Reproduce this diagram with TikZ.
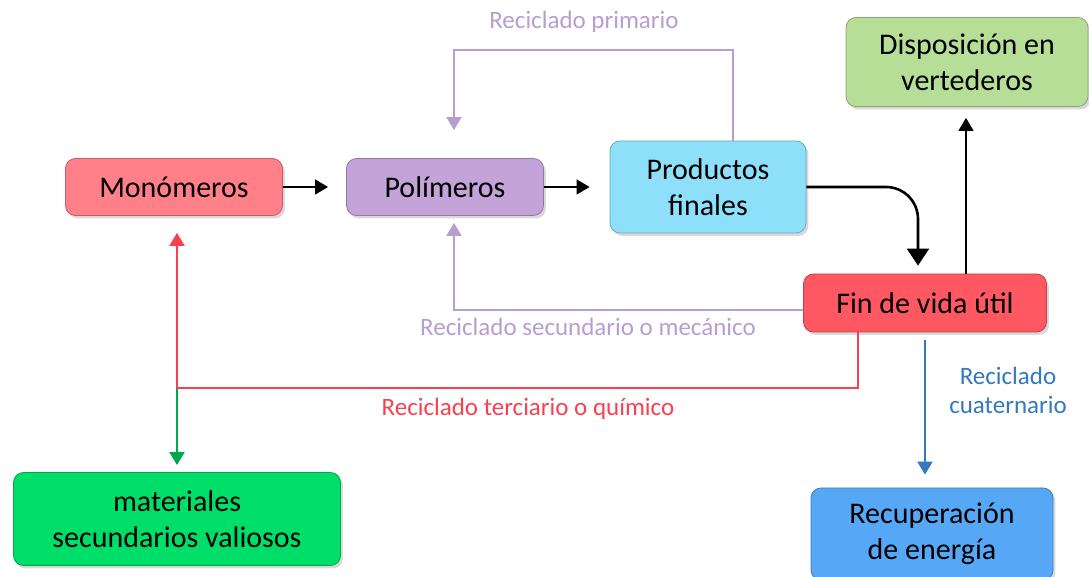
\documentclass[tikz,border=0pt]{standalone}
\usepackage{fontspec}
\setmainfont{Carlito}
\usetikzlibrary{arrows.meta,shadows}
\definecolor{monopink}{RGB}{255,128,136}
\definecolor{polilila}{RGB}{196,163,216}
\definecolor{prodcyan}{RGB}{142,224,250}
\definecolor{dispgreen}{RGB}{182,222,150}
\definecolor{finred}{RGB}{255,88,98}
\definecolor{recupblue}{RGB}{86,168,246}
\definecolor{matgreen}{RGB}{0,222,106}
\definecolor{recpurple}{RGB}{182,158,210}
\definecolor{recred}{RGB}{250,64,80}
\definecolor{recblue}{RGB}{52,120,190}
\definecolor{recgreen}{RGB}{0,168,80}
\begin{document}
\begin{tikzpicture}[x=0.5pt,y=-0.5pt,
  box/.style={rounded corners=5pt, draw=#1!75!black, fill=#1, line width=0.4pt,
    drop shadow={shadow xshift=1.2pt,shadow yshift=-1.5pt,opacity=0.3},
    align=center, font=\fontsize{15}{18}\selectfont, inner sep=2pt},
  flow/.style={-{Triangle[length=6.5pt,width=7.5pt]}, line width=0.7pt},
  rec/.style={draw=#1, line width=1pt, -{Triangle[length=6.5pt,width=7.5pt]}},
  reclabel/.style={text=#1, font=\fontsize{12.5}{14.5}\selectfont, align=center}]
\useasboundingbox (0,0) rectangle (1089,577);
% Main boxes
\node[box=monopink, minimum width=108.5pt, minimum height=28.5pt] (mono) at (174,187) {Monómeros};
\node[box=polilila, minimum width=98.5pt, minimum height=28.5pt] (poli) at (445,187) {Polímeros};
\node[box=prodcyan, minimum width=98pt, minimum height=46pt] (prod) at (708,187) {Productos\\finales};
\node[box=dispgreen, minimum width=121pt, minimum height=44.5pt] (disp) at (967,62) {Disposición en\\vertederos};
\node[box=finred, minimum width=121.5pt, minimum height=29pt] (fin) at (925,303) {Fin de vida útil};
\node[box=recupblue, minimum width=121pt, minimum height=46pt] (recup) at (932,534) {Recuperación\\de energía};
\node[box=matgreen, minimum width=163.5pt, minimum height=46.5pt] (mat) at (177,519) {materiales\\secundarios valiosos};
% Main flow
\draw[flow, shorten >=9pt] (mono) -- (poli);
\draw[flow, shorten >=10pt] (poli) -- (prod);
\draw[flow, line width=1.3pt, rounded corners=16pt, shorten >=4pt,
  -{Triangle[length=8.5pt,width=11pt]}] (prod.east) -| ([xshift=-3.5pt]fin.north);
\draw[flow, shorten >=5.5pt] ([xshift=20.5pt]fin.north) -- ([xshift=20.5pt]fin.north |- disp.south);
% Recycling loops
\coordinate (primtop) at (454,50);
\coordinate (terc) at (177,388);
\draw[rec=recpurple, shorten >=14pt] ([xshift=12.5pt]prod.north) |- (primtop) -- ([xshift=4.5pt]poli.north);
\draw[rec=recpurple, shorten >=3.5pt] ([yshift=-3.5pt]fin.west) -| ([xshift=4.5pt]poli.south);
\draw[rec=recred, shorten >=8.5pt] ([xshift=-33.5pt]fin.south) |- (terc) -- ([xshift=1.5pt]mono.south);
\draw[rec=recgreen, shorten >=3.5pt] (terc) -- (mat.north);
\draw[rec=recblue, shorten <=4pt, shorten >=6.5pt] (fin.south) -- (fin.south |- recup.north);
% Labels
\node[reclabel=recpurple] (lprim) at (584,22) {Reciclado primario};
\node[reclabel=recpurple] (lsec) at (588,327) {Reciclado secundario o mecánico};
\node[reclabel=recred] (lterc) at (528,409) {Reciclado terciario o químico};
\node[reclabel=recblue] (lcuat) at (1008,390) {Reciclado\\cuaternario};
\end{tikzpicture}
\end{document}
